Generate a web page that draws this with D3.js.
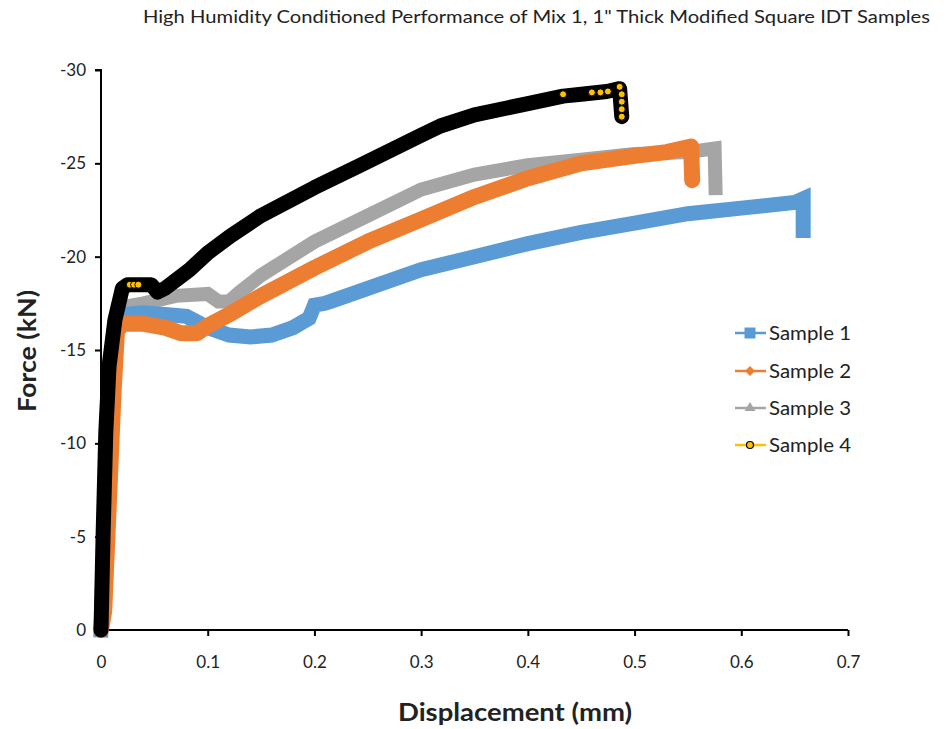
<!DOCTYPE html>
<html>
<head>
<meta charset="utf-8">
<script src="https://cdn.jsdelivr.net/npm/d3@7/dist/d3.min.js"></script>
<style>
  html, body { margin: 0; padding: 0; background: #fff; }
  svg { display: block; font-family: Lato, "Open Sans", sans-serif; }
</style>
</head>
<body>
<svg id="chart" width="946" height="729"></svg>
<script>
// Displacement (mm) and force (kN) readings for each IDT sample
const s1Disp  = [0, 0.003, 0.006, 0.01, 0.015, 0.02, 0.04, 0.06, 0.08, 0.09, 0.1, 0.12, 0.14, 0.16, 0.18, 0.195, 0.2, 0.21, 0.22, 0.25, 0.3, 0.35, 0.4, 0.45, 0.5, 0.55, 0.6, 0.65, 0.658, 0.658];
const s1Force = [0, -5, -10, -14, -16.2, -16.9, -17.0, -16.9, -16.8, -16.5, -16.2, -15.8, -15.7, -15.8, -16.2, -16.7, -17.4, -17.5, -17.7, -18.3, -19.3, -20.0, -20.7, -21.3, -21.8, -22.3, -22.6, -22.9, -23.1, -21.4];

const s2Disp  = [0, 0.003, 0.006, 0.009, 0.012, 0.015, 0.02, 0.04, 0.06, 0.075, 0.09, 0.1, 0.12, 0.15, 0.2, 0.25, 0.3, 0.35, 0.4, 0.45, 0.5, 0.53, 0.553, 0.554];
const s2Force = [0, -1, -5, -9, -13, -16.0, -16.4, -16.4, -16.2, -15.9, -15.9, -16.3, -16.9, -17.9, -19.4, -20.8, -22.0, -23.2, -24.2, -25.0, -25.4, -25.6, -25.9, -24.1];

const s3Disp  = [0, 0.003, 0.006, 0.009, 0.013, 0.02, 0.04, 0.07, 0.1, 0.11, 0.12, 0.13, 0.15, 0.2, 0.25, 0.3, 0.35, 0.4, 0.45, 0.5, 0.55, 0.575, 0.576];
const s3Force = [0, -5, -10, -14, -16.6, -17.3, -17.5, -17.9, -18.0, -17.6, -17.6, -18.1, -19.0, -20.8, -22.2, -23.6, -24.4, -24.9, -25.2, -25.5, -25.6, -25.8, -23.3];

const s4Disp  = [0, 0.002, 0.0045, 0.0075, 0.013, 0.02, 0.025, 0.04, 0.047, 0.053, 0.06, 0.083, 0.1, 0.121, 0.15, 0.2, 0.243, 0.3, 0.318, 0.35, 0.4, 0.433, 0.45, 0.474, 0.486, 0.488];
const s4Force = [0, -5.2, -10.6, -14.1, -16.6, -18.3, -18.5, -18.5, -18.5, -18.1, -18.3, -19.3, -20.2, -21.1, -22.2, -23.7, -24.9, -26.5, -27.0, -27.6, -28.2, -28.6, -28.7, -28.85, -29.0, -27.5];

// Sample 4 markers that show through where the readings are sparse
const s4MarkDisp  = [0.027, 0.031, 0.035, 0.433, 0.46, 0.468, 0.475, 0.486, 0.488, 0.488, 0.488, 0.488];
const s4MarkForce = [-18.5, -18.5, -18.5, -28.7, -28.8, -28.8, -28.85, -29.1, -28.7, -28.3, -27.9, -27.5];

const xTicks = [0, 0.1, 0.2, 0.3, 0.4, 0.5, 0.6, 0.7];
const xTickLabels = ["0", "0.1", "0.2", "0.3", "0.4", "0.5", "0.6", "0.7"];
const yTicks = [0, -5, -10, -15, -20, -25, -30];
const yTickLabels = ["0", "-5", "-10", "-15", "-20", "-25", "-30"];

const seriesNames = ["Sample 1", "Sample 2", "Sample 3", "Sample 4"];
const seriesColors = ["#5B9BD5", "#ED7D31", "#A5A5A5", "#000000"];
const legendColors = ["#5B9BD5", "#ED7D31", "#A5A5A5", "#FFC000"];

const titleText = "High Humidity Conditioned Performance of Mix 1, 1\" Thick Modified Square IDT Samples";

const svg = d3.select("#chart");

const x = d3.scaleLinear().domain([0, 0.7]).range([101, 848]);
const y = d3.scaleLinear().domain([0, -30]).range([630, 70]);

// Title
svg.append("text")
  .attr("x", 143).attr("y", 23)
  .attr("font-size", 16.5)
  .attr("fill", "#222")
  .attr("textLength", 787)
  .attr("lengthAdjust", "spacingAndGlyphs")
  .text(titleText);

// Axes
const xAxis = d3.axisBottom(x)
  .tickValues(xTicks)
  .tickSize(6)
  .tickPadding(20)
  .tickFormat((d, i) => xTickLabels[i]);
const yAxis = d3.axisLeft(y)
  .tickValues(yTicks)
  .tickSize(6)
  .tickPadding(9)
  .tickFormat((d, i) => yTickLabels[i]);

const gx = svg.append("g").attr("transform", "translate(0,630)").call(xAxis);
const gy = svg.append("g").attr("transform", "translate(101,0)").call(yAxis);

[gx, gy].forEach(g => {
  g.select(".domain").attr("stroke", "#000").attr("stroke-width", 2);
  g.selectAll(".tick line").attr("stroke", "#000").attr("stroke-width", 2);
  g.selectAll(".tick text")
    .attr("fill", "#222")
    .attr("font-size", 17)
    .attr("font-family", "Lato, 'Open Sans', sans-serif");
});
gx.select(".domain").attr("d", `M${x(0)},0H${x(0.7)}`);
gy.select(".domain").attr("d", `M-6,${y(-30)}H0V${y(0)}`);

// Axis titles
svg.append("text")
  .attr("x", 398).attr("y", 721)
  .attr("font-size", 24)
  .attr("font-weight", "bold")
  .attr("fill", "#222")
  .attr("textLength", 234)
  .attr("lengthAdjust", "spacingAndGlyphs")
  .text("Displacement (mm)");

svg.append("text")
  .attr("transform", "translate(36,412) rotate(-90)")
  .attr("font-size", 24)
  .attr("font-weight", "bold")
  .attr("fill", "#222")
  .attr("textLength", 122)
  .attr("lengthAdjust", "spacingAndGlyphs")
  .text("Force (kN)");

// Series
const line = d3.line()
  .x(d => x(d[0]))
  .y(d => y(d[1]));

const zipped = (a, b) => a.map((v, i) => [v, b[i]]);

const series = [
  { data: zipped(s1Disp, s1Force), color: seriesColors[0], width: 15, cap: "square", join: "miter" },
  { data: zipped(s2Disp, s2Force), color: seriesColors[1], width: 16, cap: "round", join: "round" },
  { data: zipped(s3Disp, s3Force), color: seriesColors[2], width: 14, cap: "butt", join: "miter" },
  { data: zipped(s4Disp, s4Force), color: seriesColors[3], width: 15, cap: "round", join: "round" }
];

// draw order: grey under, then blue, orange, black on top
const drawOrder = [2, 0, 1, 3];
const plot = svg.append("g");
drawOrder.forEach(i => {
  const s = series[i];
  plot.append("path")
    .datum(s.data)
    .attr("d", line)
    .attr("fill", "none")
    .attr("stroke", s.color)
    .attr("stroke-width", s.width)
    .attr("stroke-linecap", s.cap)
    .attr("stroke-linejoin", s.join);
});

plot.selectAll("circle.s4")
  .data(zipped(s4MarkDisp, s4MarkForce))
  .enter().append("circle")
  .attr("class", "s4")
  .attr("cx", d => x(d[0]))
  .attr("cy", d => y(d[1]))
  .attr("r", 3.5)
  .attr("fill", "#FFC000")
  .attr("stroke", "#000")
  .attr("stroke-width", 1);

// Legend
const legendY = [333, 371, 408, 445];
const legend = svg.append("g");
seriesNames.forEach((name, i) => {
  const g = legend.append("g").attr("transform", `translate(0,${legendY[i]})`);
  g.append("line")
    .attr("x1", 735).attr("x2", 766)
    .attr("y1", 0).attr("y2", 0)
    .attr("stroke", legendColors[i])
    .attr("stroke-width", 2.5);
  if (i === 0) {
    g.append("rect").attr("x", 745).attr("y", -5).attr("width", 10).attr("height", 10)
      .attr("fill", legendColors[i]).attr("stroke", legendColors[i]);
  } else if (i === 1) {
    g.append("path").attr("d", "M750,-5L755,0L750,5L745,0Z").attr("fill", legendColors[i]);
  } else if (i === 2) {
    g.append("path").attr("d", "M750,-6L755.5,3L744.5,3Z").attr("fill", legendColors[i]);
  } else {
    g.append("circle").attr("cx", 750).attr("cy", 0).attr("r", 3.5)
      .attr("fill", legendColors[i]).attr("stroke", "#000").attr("stroke-width", 1.2);
  }
  g.append("text")
    .attr("x", 769).attr("y", 6.5)
    .attr("font-size", 18.5)
    .attr("fill", "#222")
    .attr("textLength", 82)
    .attr("lengthAdjust", "spacingAndGlyphs")
    .text(name);
});
</script>
</body>
</html>
